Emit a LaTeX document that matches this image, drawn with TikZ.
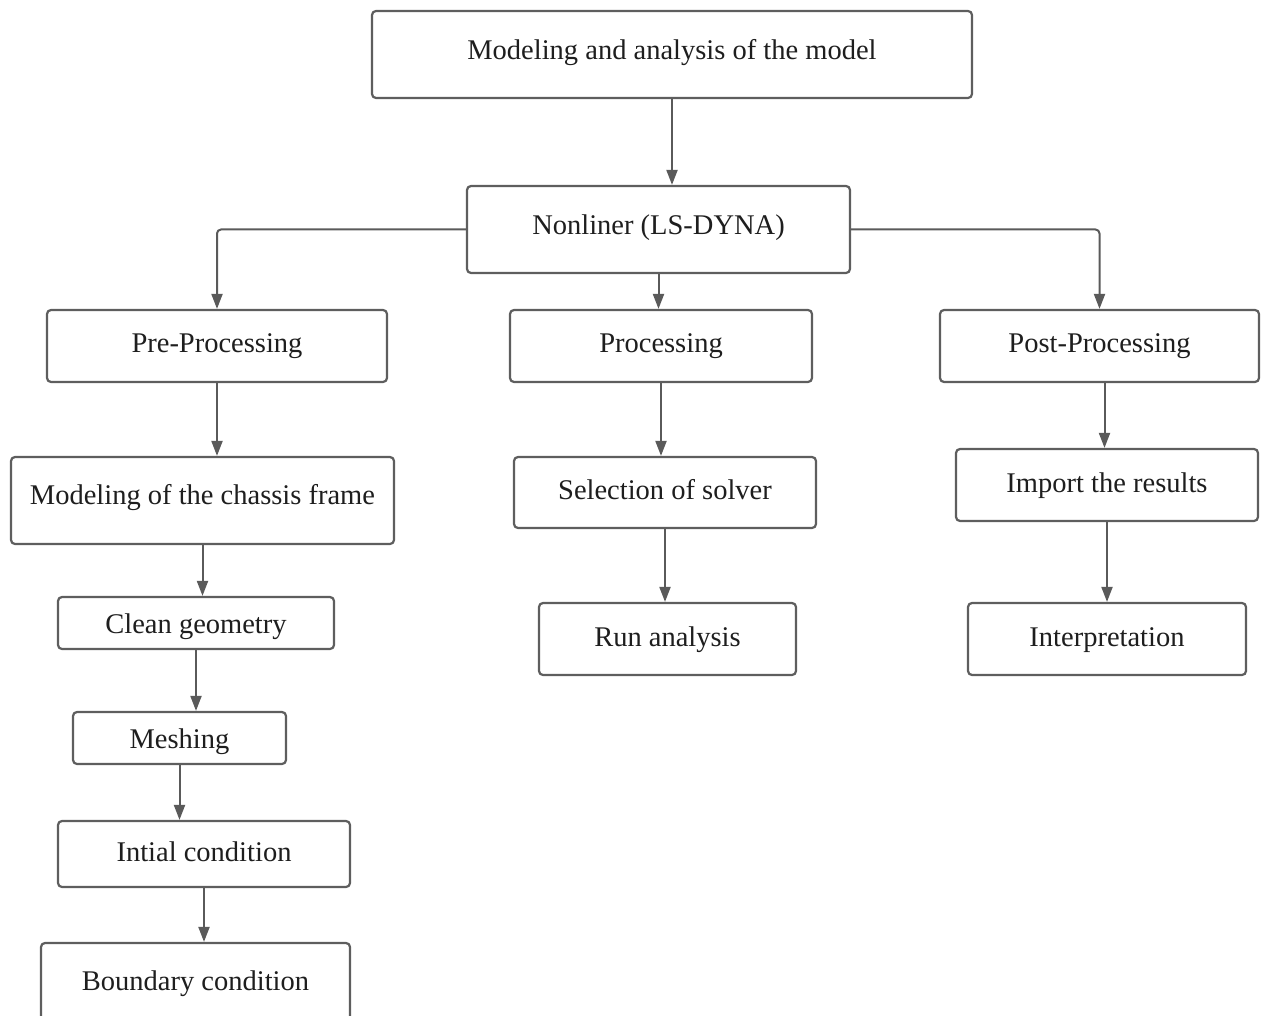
\documentclass[tikz,border=0pt]{standalone}
\usepackage{fontspec}
\setmainfont{Liberation Serif}
\usepackage{xcolor}
\usetikzlibrary{
	arrows.meta,
	calc,
	positioning
}

\definecolor{boxgray}{HTML}{5E5E5E}
\definecolor{arrgray}{HTML}{5A5A5A}
\definecolor{txtgray}{HTML}{1E1E1E}

\begin{document}
\begin{tikzpicture}[x=1pt, y=-1pt,
	stage/.style={draw=boxgray, line width=2.2pt, rounded corners=4pt, fill=white,
		text=txtgray, font=\fontsize{28.5}{34}\selectfont, inner sep=0pt,
		text height=19pt, text depth=6pt},
	arr/.style={draw=arrgray, line width=2pt, -{Triangle[length=15pt, width=11pt]}}
]
	\useasboundingbox (0,0) rectangle (1261,1016);
	% top level
	\node[stage, minimum width=600pt, minimum height=87pt, text depth=9pt] (model) at (672,54.5) {Modeling and analysis of the model};
	\node[stage, minimum width=383pt, minimum height=87pt, text depth=9pt] (nonlin) at (658.5,229.5) {Nonliner (LS-DYNA)};
	% three branches
	\node[stage, minimum width=340pt, minimum height=72pt] (pre) at (217,346) {Pre-Processing};
	\node[stage, minimum width=302pt, minimum height=72pt] (proc) at (661,346) {Processing};
	\node[stage, minimum width=319pt, minimum height=72pt] (post) at (1099.5,346) {Post-Processing};
	% pre-processing column
	\node[stage, minimum width=383pt, minimum height=87pt, text depth=11pt] (chassis) at (202.5,500.5) {Modeling of the chassis frame};
	\node[stage, minimum width=276pt, minimum height=52pt, text height=27pt] (clean) at (196,623) {Clean geometry};
	\node[stage, minimum width=213pt, minimum height=52pt, text height=27pt] (mesh) at (179.5,738) {Meshing};
	\node[stage, minimum width=292pt, minimum height=66pt, text height=21pt] (initial) at (204,854) {Intial condition};
	\node[stage, minimum width=309pt, minimum height=87pt, text depth=11pt] (boundary) at (195.5,986.5) {Boundary condition};
	% processing column
	\node[stage, minimum width=302pt, minimum height=71pt] (solver) at (665,492.5) {Selection of solver};
	\node[stage, minimum width=257pt, minimum height=72pt, text height=21pt] (run) at (667.5,639) {Run analysis};
	% post-processing column
	\node[stage, minimum width=302pt, minimum height=72pt, text height=21pt] (import) at (1107,485) {Import the results};
	\node[stage, minimum width=278pt, minimum height=72pt, text height=21pt] (interp) at (1107,639) {Interpretation};

	% connectors
	\draw[arr] (model) -- (model |- nonlin.north);
	\draw[arr, rounded corners=4pt] (nonlin.west) -| (pre.north);
	\draw[arr] (nonlin) -- (nonlin |- proc.north);
	\draw[arr, rounded corners=4pt] (nonlin.east) -| (post.north);
	\foreach \a/\b in {pre/chassis, chassis/clean, clean/mesh, mesh/initial, initial/boundary,
		proc/solver, solver/run, import/interp}
		\draw[arr] (\a.south) -- (\a.south |- \b.north);
	\draw[arr] ([xshift=5pt]post.south) -- ([xshift=5pt]post.south |- import.north);
\end{tikzpicture}
\end{document}
